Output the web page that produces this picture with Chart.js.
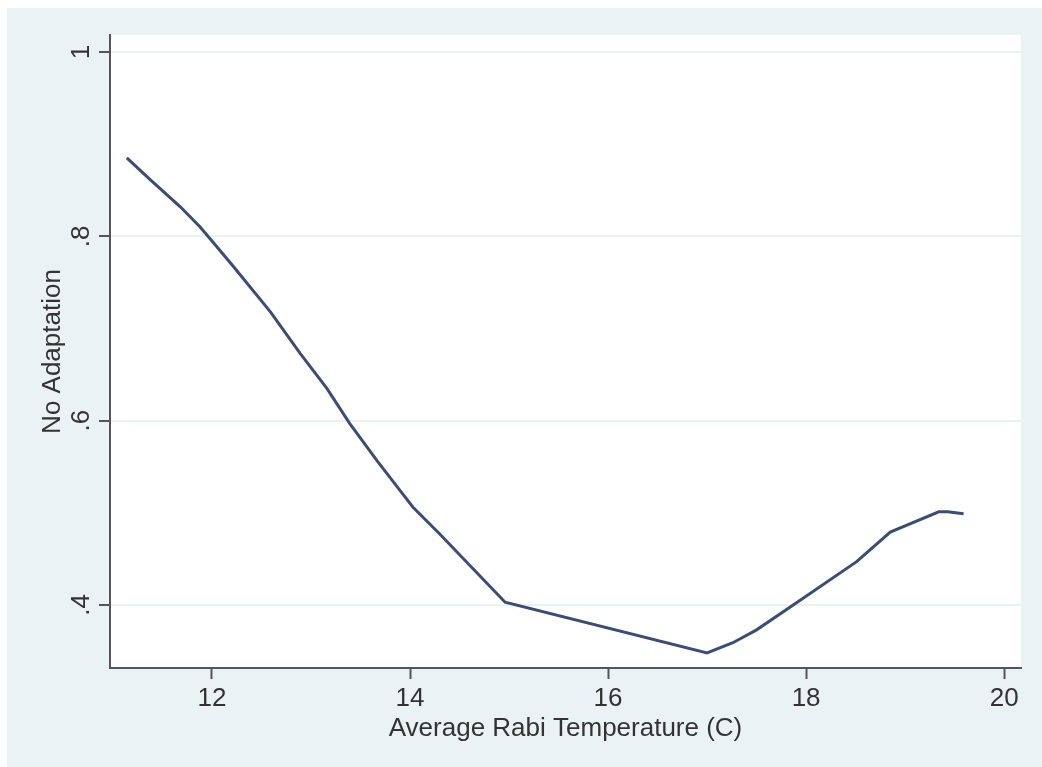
<!DOCTYPE html>
<html>
<head>
<meta charset="utf-8">
<script src="https://cdn.jsdelivr.net/npm/chart.js@4/dist/chart.umd.min.js"></script>
<style>
  html, body { margin: 0; padding: 0; background: #ffffff; }
  #wrap { position: absolute; left: 7px; top: 8px; width: 1035px; height: 759px; }
</style>
</head>
<body>
<div id="wrap"><canvas id="grafico" width="1035" height="759"></canvas></div>
<script>
// valores
const temperatura = [11.14, 11.37, 11.68, 11.88, 12.00, 12.21, 12.59, 12.89, 13.16, 13.39, 13.67, 13.90,
    14.03, 14.30, 14.96, 17.00, 17.26, 17.50, 17.94, 18.51, 18.85, 19.34, 19.43, 19.59];
const sinAdaptacion = [0.885, 0.862, 0.832, 0.810, 0.795, 0.768, 0.718, 0.673, 0.635, 0.597, 0.556, 0.524,
    0.506, 0.477, 0.403, 0.348, 0.359, 0.373, 0.405, 0.447, 0.479, 0.501, 0.501, 0.499];

const ticksX = [12, 14, 16, 18, 20];
const ticksY = [0.4, 0.6, 0.8, 1];
const etiquetasY = ['.4', '.6', '.8', '1'];

const puntos = temperatura.map((t, i) => ({ x: t, y: sinAdaptacion[i] }));

const fondo = {
    id: 'fondo',
    beforeDraw(chart) {
        const c = chart.ctx, a = chart.chartArea;
        c.save();
        c.fillStyle = '#eaf2f3';
        c.fillRect(0, 0, chart.width, chart.height);
        c.fillStyle = '#ffffff';
        c.fillRect(a.left, a.top, a.right - a.left, a.bottom - a.top);
        c.restore();
    }
};

const fuente = { family: '"Liberation Sans", Arial, sans-serif', size: 26 };

const ctx = document.getElementById('grafico').getContext('2d');

new Chart(ctx, {
    type: 'line',
    data: {
        datasets: [{
            label: 'No Adaptation',
            data: puntos,
            borderColor: '#3d4d72',
            borderWidth: 3,
            tension: 0,
            fill: false,
            pointRadius: 0
        }]
    },
    options: {
        responsive: false,
        animation: false,
        devicePixelRatio: 1,
        layout: { padding: { left: 0, top: 27, right: 21, bottom: 0 } },
        plugins: {
            legend: { display: false },
            tooltip: { enabled: false }
        },
        scales: {
            x: {
                type: 'linear',
                min: 10.97,
                max: 20.17,
                afterBuildTicks: s => { s.ticks = ticksX.map(v => ({ value: v })); },
                afterFit: s => { s.height = 99; },
                grid: {
                    drawOnChartArea: false,
                    tickColor: '#555555',
                    tickLength: 11,
                    tickWidth: 2
                },
                border: { display: true, color: '#555555', width: 2 },
                ticks: {
                    color: '#333333',
                    font: fuente,
                    padding: 4,
                    maxRotation: 0,
                    callback: value => String(value)
                },
                title: {
                    display: true,
                    text: 'Average Rabi Temperature (C)',
                    color: '#333333',
                    font: fuente,
                    padding: { top: 0, bottom: 23 }
                }
            },
            y: {
                min: 0.3316,
                max: 1.0184,
                afterBuildTicks: s => { s.ticks = ticksY.map(v => ({ value: v })); },
                afterFit: s => { s.width = 103; },
                grid: {
                    color: '#eaf2f3',
                    lineWidth: 2,
                    tickColor: '#555555',
                    tickLength: 11,
                    tickWidth: 2
                },
                border: { display: true, color: '#555555', width: 2 },
                ticks: {
                    color: '#333333',
                    font: fuente,
                    padding: 6,
                    minRotation: 90,
                    maxRotation: 90,
                    crossAlign: 'center',
                    callback: value => etiquetasY[ticksY.indexOf(value)] ?? ''
                },
                title: {
                    display: true,
                    text: 'No Adaptation',
                    color: '#333333',
                    font: fuente,
                    padding: { top: 30, bottom: 0 }
                }
            }
        }
    },
    plugins: [fondo]
});
</script>
</body>
</html>
